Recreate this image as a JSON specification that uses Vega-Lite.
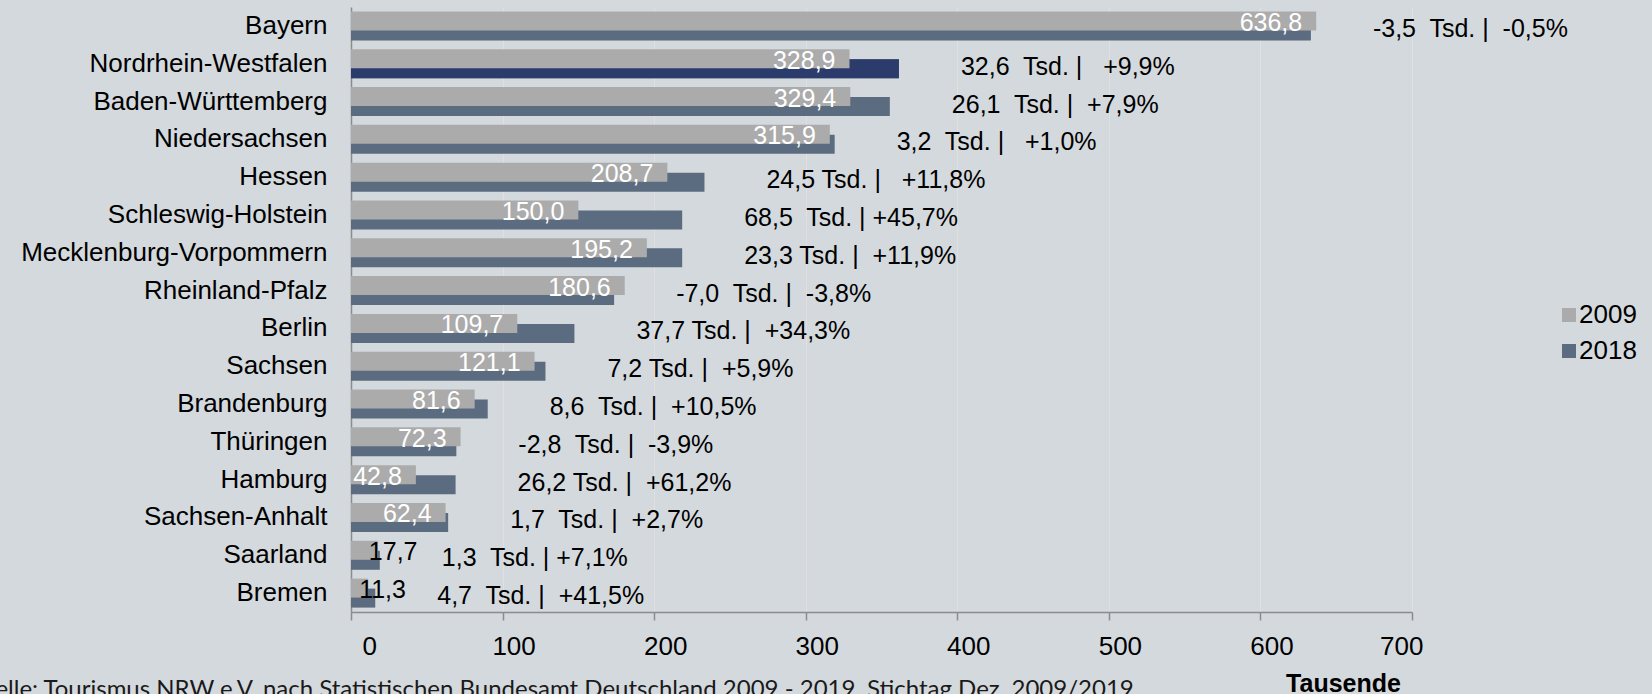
{
  "$schema": "https://vega.github.io/schema/vega-lite/v6.json",
  "width": 1061,
  "height": 605,
  "autosize": {"type": "none"},
  "padding": {"left": 351, "top": 7, "right": 240, "bottom": 82},
  "background": "#D4D9DD",
  "config": {
    "view": {"stroke": null},
    "font": "Liberation Sans",
    "locale": {"number": {"decimal": ",", "thousands": ".", "grouping": [3], "currency": ["", " €"]}},
    "axisY": {"domainColor": "#8C8C8C", "domainWidth": 1.5, "ticks": false, "labelFontSize": 26, "labelColor": "#000000", "labelPadding": 24, "labelLimit": 400, "grid": false, "title": null, "labelFont": "Liberation Sans"},
    "axisX": {"domainColor": "#8C8C8C", "domainWidth": 1.5, "tickColor": "#8C8C8C", "tickSize": 8, "tickWidth": 1.5, "grid": true, "gridColor": "#E0E0E0", "gridWidth": 1, "labelFontSize": 26, "labelColor": "#000000", "labelPadding": 13, "labelOffset": 11, "titleFontSize": 25, "titleFontWeight": "bold", "titleColor": "#000000", "labelFont": "Liberation Sans", "titleFont": "Liberation Sans"}
  },
  "title": {
    "text": "Quelle: Tourismus NRW e.V. nach Statistischen Bundesamt Deutschland 2009 - 2019, Stichtag Dez. 2009/2019",
    "orient": "bottom",
    "anchor": "start",
    "frame": "group",
    "dx": -388,
    "offset": -18,
    "font": "Lato",
    "fontSize": 24,
    "fontWeight": "normal",
    "color": "#1A1A1A"
  },
  "datasets": {
    "bars": [
      {"land": "Bayern", "year": "2009", "value": 636.8},
      {"land": "Bayern", "year": "2018", "value": 633.3},
      {"land": "Nordrhein-Westfalen", "year": "2009", "value": 328.9},
      {"land": "Nordrhein-Westfalen", "year": "2018", "value": 361.5},
      {"land": "Baden-Württemberg", "year": "2009", "value": 329.4},
      {"land": "Baden-Württemberg", "year": "2018", "value": 355.5},
      {"land": "Niedersachsen", "year": "2009", "value": 315.9},
      {"land": "Niedersachsen", "year": "2018", "value": 319.1},
      {"land": "Hessen", "year": "2009", "value": 208.7},
      {"land": "Hessen", "year": "2018", "value": 233.2},
      {"land": "Schleswig-Holstein", "year": "2009", "value": 150.0},
      {"land": "Schleswig-Holstein", "year": "2018", "value": 218.5},
      {"land": "Mecklenburg-Vorpommern", "year": "2009", "value": 195.2},
      {"land": "Mecklenburg-Vorpommern", "year": "2018", "value": 218.5},
      {"land": "Rheinland-Pfalz", "year": "2009", "value": 180.6},
      {"land": "Rheinland-Pfalz", "year": "2018", "value": 173.6},
      {"land": "Berlin", "year": "2009", "value": 109.7},
      {"land": "Berlin", "year": "2018", "value": 147.4},
      {"land": "Sachsen", "year": "2009", "value": 121.1},
      {"land": "Sachsen", "year": "2018", "value": 128.3},
      {"land": "Brandenburg", "year": "2009", "value": 81.6},
      {"land": "Brandenburg", "year": "2018", "value": 90.2},
      {"land": "Thüringen", "year": "2009", "value": 72.3},
      {"land": "Thüringen", "year": "2018", "value": 69.5},
      {"land": "Hamburg", "year": "2009", "value": 42.8},
      {"land": "Hamburg", "year": "2018", "value": 69.0},
      {"land": "Sachsen-Anhalt", "year": "2009", "value": 62.4},
      {"land": "Sachsen-Anhalt", "year": "2018", "value": 64.1},
      {"land": "Saarland", "year": "2009", "value": 17.7},
      {"land": "Saarland", "year": "2018", "value": 19.0},
      {"land": "Bremen", "year": "2009", "value": 11.3},
      {"land": "Bremen", "year": "2018", "value": 16.0}
    ],
    "notes": [
      {"land": "Bayern", "value": 633.3, "note": "-3,5\u00a0 Tsd. |\u00a0 -0,5%"},
      {"land": "Nordrhein-Westfalen", "value": 361.5, "note": "32,6\u00a0 Tsd. |\u00a0\u00a0 +9,9%"},
      {"land": "Baden-Württemberg", "value": 355.5, "note": "26,1\u00a0 Tsd. |\u00a0 +7,9%"},
      {"land": "Niedersachsen", "value": 319.1, "note": "3,2\u00a0 Tsd. |\u00a0\u00a0 +1,0%"},
      {"land": "Hessen", "value": 233.2, "note": "24,5 Tsd. |\u00a0\u00a0 +11,8%"},
      {"land": "Schleswig-Holstein", "value": 218.5, "note": "68,5\u00a0 Tsd. | +45,7%"},
      {"land": "Mecklenburg-Vorpommern", "value": 218.5, "note": "23,3 Tsd. |\u00a0 +11,9%"},
      {"land": "Rheinland-Pfalz", "value": 173.6, "note": "-7,0\u00a0 Tsd. |\u00a0 -3,8%"},
      {"land": "Berlin", "value": 147.4, "note": "37,7 Tsd. |\u00a0 +34,3%"},
      {"land": "Sachsen", "value": 128.3, "note": "7,2 Tsd. |\u00a0 +5,9%"},
      {"land": "Brandenburg", "value": 90.2, "note": "8,6\u00a0 Tsd. |\u00a0 +10,5%"},
      {"land": "Thüringen", "value": 69.5, "note": "-2,8\u00a0 Tsd. |\u00a0 -3,9%"},
      {"land": "Hamburg", "value": 69.0, "note": "26,2 Tsd. |\u00a0 +61,2%"},
      {"land": "Sachsen-Anhalt", "value": 64.1, "note": "1,7\u00a0 Tsd. |\u00a0 +2,7%"},
      {"land": "Saarland", "value": 19.0, "note": "1,3\u00a0 Tsd. | +7,1%"},
      {"land": "Bremen", "value": 16.0, "note": "4,7\u00a0 Tsd. |\u00a0 +41,5%"}
    ]
  },
  "encoding": {
    "y": {"field": "land", "type": "nominal", "sort": null, "scale": {"paddingInner": 0, "paddingOuter": 0}},
    "x": {"field": "value", "type": "quantitative", "scale": {"domain": [0, 700], "nice": false},
          "axis": {"title": "Tausende", "values": [0, 100, 200, 300, 400, 500, 600, 700], "titleX": 992, "titleY": 79, "titleBaseline": "alphabetic", "titleAlign": "center"}}
  },
  "layer": [
    {
      "data": {"name": "bars"},
      "transform": [{"filter": "datum.year == '2018'"}],
      "mark": {"type": "bar", "height": 19, "yOffset": 5},
      "encoding": {
        "color": {"field": "year", "type": "nominal",
                  "scale": {"domain": ["2009", "2018"], "range": ["#ABABAB", "#5B6B80"]},
                  "legend": {"orient": "none", "legendX": 1205, "legendY": 295, "title": null, "symbolType": "square", "symbolSize": 196, "labelFontSize": 26, "labelColor": "#000000", "rowPadding": 10, "labelOffset": -3, "symbolStrokeWidth": 0, "padding": 0, "labelFont": "Liberation Sans"}}
      }
    },
    {
      "data": {"name": "bars"},
      "transform": [{"filter": "datum.year == '2018' && datum.land == 'Nordrhein-Westfalen'"}],
      "mark": {"type": "bar", "height": 19, "yOffset": 5, "color": "#2B3B6B"}
    },
    {
      "data": {"name": "bars"},
      "transform": [{"filter": "datum.year == '2009'"}],
      "mark": {"type": "bar", "height": 19, "yOffset": -5},
      "encoding": {
        "color": {"field": "year", "type": "nominal"}
      }
    },
    {
      "data": {"name": "bars"},
      "transform": [{"filter": "datum.year == '2009' && datum.value >= 30"}],
      "mark": {"type": "text", "align": "right", "baseline": "middle", "dx": -14, "yOffset": -3, "fontSize": 25, "color": "#FFFFFF"},
      "encoding": {
        "text": {"field": "value", "type": "quantitative", "format": ".1f"}
      }
    },
    {
      "data": {"name": "bars"},
      "transform": [{"filter": "datum.year == '2009' && datum.value < 30"}],
      "mark": {"type": "text", "align": "left", "baseline": "middle", "dx": -9, "yOffset": -3, "fontSize": 25, "color": "#000000"},
      "encoding": {
        "text": {"field": "value", "type": "quantitative", "format": ".1f"}
      }
    },
    {
      "data": {"name": "notes"},
      "mark": {"type": "text", "align": "left", "baseline": "middle", "dx": 62, "yOffset": 3, "fontSize": 25, "color": "#000000"},
      "encoding": {
        "text": {"field": "note", "type": "nominal"}
      }
    }
  ]
}
